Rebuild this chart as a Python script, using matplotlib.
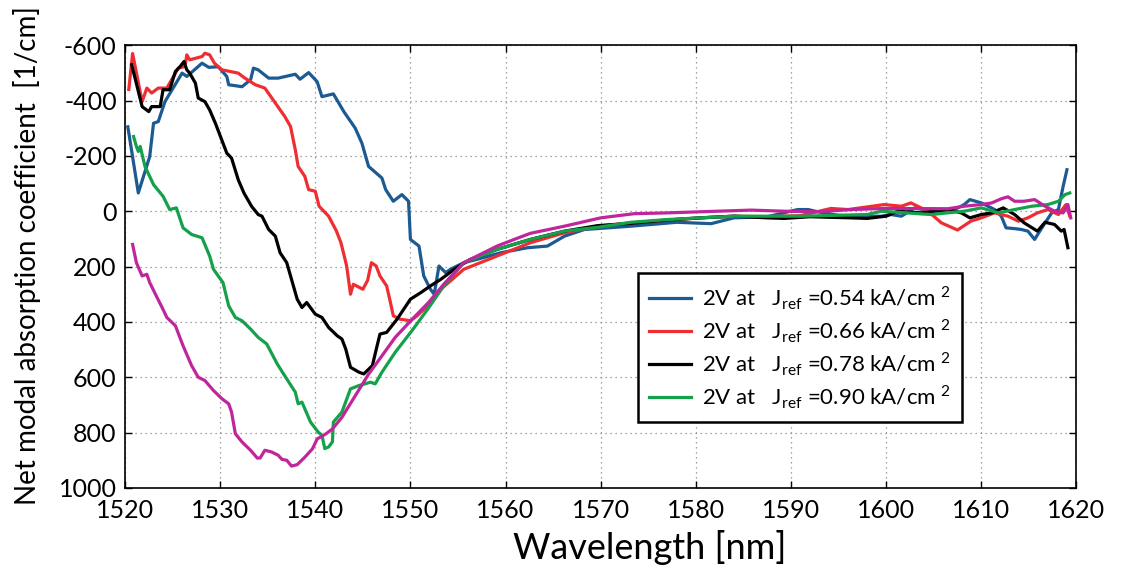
import matplotlib
matplotlib.use("Agg")
import matplotlib.pyplot as plt

plt.rcParams['font.family'] = ['Lato', 'DejaVu Sans']
plt.rcParams['mathtext.fontset'] = 'custom'
plt.rcParams['mathtext.rm'] = 'Lato'
plt.rcParams['axes.unicode_minus'] = False

# --- data (wavelength nm, net modal absorption 1/cm) ---
blue_x = [1520.3, 1521.4, 1522.6, 1523.0, 1523.5, 1524.2, 1526.0, 1526.5, 1528.1, 1528.8,
          1529.8, 1530.7, 1530.9, 1532.3, 1533.2, 1533.5, 1534.0, 1535.1, 1536.1, 1537.9,
          1538.4, 1539.3, 1540.2, 1540.7, 1541.9, 1543.0, 1544.2, 1544.9, 1545.6, 1547.0,
          1547.4, 1548.2, 1549.1, 1549.8, 1550.0, 1550.9, 1551.4, 1552.1, 1552.5, 1553.0,
          1553.7, 1554.2, 1555.6, 1557.0, 1559.5, 1562.3, 1564.4, 1566.2, 1568.3, 1570.0,
          1573.2, 1575.3, 1578.0, 1581.6, 1584.0, 1587.5, 1590.7, 1591.8, 1592.8, 1595.0,
          1598.0, 1599.5, 1600.5, 1601.6, 1603.0, 1604.7, 1607.2, 1608.2, 1608.8, 1610.0,
          1611.4, 1612.1, 1612.6, 1613.5, 1614.2, 1614.9, 1615.6, 1616.7, 1617.4, 1618.1,
          1618.6, 1619.0]
blue_y = [-305, -66, -198, -318, -324, -396, -499, -487, -535, -520,
          -522, -487, -457, -450, -475, -517, -511, -481, -481, -495,
          -477, -501, -468, -414, -424, -360, -300, -246, -162, -120,
          -78, -36, -60, -36, 102, 126, 234, 282, 300, 198,
          222, 210, 186, 174, 150, 132, 126, 90, 66, 62,
          54, 48, 40, 45, 24, 20, -6, -6, 2, 15,
          18, 18, 12, 18, -12, 0, -6, -24, -42, -30,
          -6, 18, 60, 63, 66, 72, 102, 42, 6, -6,
          -90, -150]

red_x = [1520.4, 1520.8, 1521.8, 1522.3, 1522.8, 1523.5, 1524.4, 1525.6, 1526.3, 1526.5,
         1526.8, 1528.1, 1528.4, 1528.9, 1529.4, 1530.2, 1531.9, 1532.6, 1533.7, 1534.7,
         1535.8, 1536.8, 1537.4, 1537.9, 1538.2, 1538.9, 1539.3, 1540.0, 1540.4, 1541.4,
         1542.2, 1542.7, 1543.3, 1543.7, 1544.0, 1545.0, 1545.5, 1545.9, 1546.4, 1546.8,
         1547.5, 1547.9, 1548.2, 1548.9, 1550.0, 1550.7, 1551.8, 1552.8, 1554.2, 1555.6,
         1559.1, 1562.6, 1566.2, 1569.7, 1573.2, 1577.0, 1580.5, 1584.0, 1587.5, 1591.0,
         1594.2, 1596.0, 1599.8, 1601.6, 1602.6, 1604.4, 1605.8, 1607.5, 1608.9, 1610.0,
         1611.4, 1612.8, 1613.9, 1614.9, 1615.9, 1617.0, 1618.1, 1618.9, 1619.3]
red_y = [-440, -570, -396, -445, -427, -445, -445, -517, -523, -565,
         -547, -559, -571, -565, -535, -511, -499, -481, -457, -445,
         -391, -342, -306, -222, -162, -126, -78, -72, -18, 18,
         70, 114, 198, 300, 264, 282, 250, 186, 198, 234,
         270, 330, 378, 390, 396, 378, 342, 294, 252, 210,
         162, 114, 78, 54, 42, 32, 24, 18, 20, 16,
         -10, -6, -24, -18, -30, 0, 42, 68, 36, 24,
         6, 18, 36, 24, 6, -6, 12, -24, 18]

black_x = [1520.7, 1521.1, 1521.8, 1522.5, 1522.8, 1523.7, 1524.0, 1524.7, 1525.3, 1525.8,
           1526.2, 1526.5, 1526.8, 1527.4, 1527.7, 1528.4, 1528.9, 1529.5, 1530.3, 1530.7,
           1531.2, 1531.9, 1532.5, 1533.3, 1534.0, 1534.4, 1535.1, 1535.8, 1536.3, 1537.0,
           1537.5, 1538.1, 1538.6, 1539.1, 1540.0, 1540.7, 1541.4, 1542.3, 1542.8, 1543.2,
           1543.7, 1544.6, 1545.1, 1546.0, 1546.5, 1546.8, 1547.5, 1548.6, 1550.0, 1551.1,
           1552.1, 1553.2, 1554.6, 1556.3, 1559.1, 1562.6, 1566.2, 1569.7, 1573.2, 1577.0,
           1580.5, 1584.0, 1587.5, 1589.3, 1592.0, 1596.3, 1598.0, 1600.0, 1601.2, 1603.7,
           1606.5, 1607.9, 1608.8, 1610.0, 1611.1, 1612.3, 1613.5, 1614.5, 1615.9, 1616.7,
           1617.7, 1618.4, 1618.7, 1619.1]
black_y = [-529, -475, -378, -360, -378, -378, -439, -439, -505, -523,
           -541, -511, -499, -463, -409, -396, -366, -318, -246, -210,
           -192, -114, -66, -18, 12, 18, 66, 90, 150, 186,
           246, 318, 348, 330, 372, 384, 420, 450, 462, 498,
           564, 582, 588, 558, 486, 444, 438, 390, 318, 294,
           270, 246, 210, 174, 138, 102, 72, 52, 44, 32,
           24, 18, 24, 26, 20, 24, 26, 18, 0, 6,
           -6, 6, 24, 12, 6, -12, 12, 42, 72, 40,
           48, 72, 66, 132]

green_x = [1520.9, 1521.2, 1521.4, 1521.6, 1522.1, 1523.0, 1524.0, 1524.7, 1525.4, 1526.1,
           1527.0, 1528.1, 1528.9, 1529.3, 1530.3, 1530.9, 1531.6, 1532.3, 1533.2, 1534.0,
           1534.9, 1536.0, 1537.0, 1537.9, 1538.2, 1538.6, 1539.5, 1540.3, 1540.7, 1541.0,
           1541.4, 1541.8, 1541.9, 1542.8, 1543.7, 1544.6, 1545.8, 1546.3, 1547.0, 1548.4,
           1550.2, 1551.9, 1553.5, 1555.6, 1559.1, 1562.6, 1566.2, 1569.7, 1573.2, 1577.0,
           1580.5, 1584.0, 1587.5, 1591.0, 1594.6, 1598.0, 1599.5, 1604.7, 1608.2, 1610.0,
           1611.8, 1613.5, 1615.3, 1617.0, 1618.1, 1618.8, 1619.3]
green_y = [-270, -234, -216, -234, -162, -96, -54, -6, -12, 60,
           84, 96, 162, 210, 258, 342, 384, 396, 426, 456,
           480, 552, 606, 654, 696, 690, 762, 798, 810, 858,
           852, 834, 762, 726, 642, 630, 618, 624, 582, 510,
           430, 350, 270, 186, 138, 102, 72, 58, 40, 30,
           24, 18, 18, 18, 15, 12, 0, 12, 0, -12,
           6, -6, -18, -24, -36, -60, -66]

magenta_x = [1520.8, 1521.2, 1521.8, 1522.3, 1522.6, 1523.2, 1523.9, 1524.4, 1525.3, 1526.1,
             1527.0, 1527.7, 1528.4, 1529.3, 1530.2, 1530.9, 1531.2, 1531.6, 1532.3, 1533.2,
             1533.9, 1534.2, 1534.7, 1535.4, 1536.1, 1536.5, 1537.0, 1537.5, 1538.1, 1538.9,
             1539.7, 1540.2, 1541.1, 1541.8, 1542.8, 1544.2, 1545.6, 1547.0, 1548.4, 1550.2,
             1551.9, 1553.5, 1555.6, 1557.7, 1559.1, 1560.9, 1562.6, 1566.2, 1570.0, 1573.5,
             1577.0, 1580.5, 1585.8, 1589.3, 1592.8, 1596.3, 1599.8, 1606.5, 1608.2, 1610.0,
             1611.1, 1612.1, 1612.8, 1613.5, 1614.5, 1615.6, 1616.7, 1617.7, 1618.6, 1619.1,
             1619.4]
magenta_y = [120, 186, 234, 228, 258, 300, 348, 384, 414, 486,
             558, 600, 612, 648, 678, 696, 726, 804, 834, 864,
             892, 892, 864, 870, 882, 897, 900, 921, 916, 889,
             859, 823, 805, 787, 745, 667, 589, 523, 456, 390,
             330, 264, 186, 150, 126, 102, 80, 54, 24, 9,
             6, 2, -4, 0, 2, -6, -10, -9, -18, -24,
             -30, -45, -52, -36, -36, -42, -18, 0, 6, -24,
             24]

j_ref = ["0.54", "0.66", "0.78", "0.90"]
colors = ["#1c5a92", "#ef2e33", "#000000", "#15a04c", "#c0269b"]

fig = plt.figure(figsize=(11.26, 5.72), dpi=100)
ax = fig.add_axes([0.111, 0.147, 0.845, 0.774])

series = [(blue_x, blue_y), (red_x, red_y), (black_x, black_y),
          (green_x, green_y), (magenta_x, magenta_y)]
lines = []
for (xs, ys), c in zip(series, colors):
    ln, = ax.plot(xs, ys, color=c, lw=2.3, solid_joinstyle='round')
    lines.append(ln)

ax.set_xlim(1520, 1620)
ax.set_ylim(1000, -600)
ax.set_xticks(range(1520, 1621, 10))
ax.set_yticks(range(-600, 1001, 200))
ax.grid(True, linestyle=(0, (1, 3)), color='#888888', lw=0.9)
ax.tick_params(direction='in', length=5, width=1, top=True, right=True, labelsize=18)
ax.tick_params(axis='x', pad=8)
ax.tick_params(axis='y', pad=6)
for s in ax.spines.values():
    s.set_linewidth(1.2)

ax.set_xlabel("Wavelength [nm]", fontsize=26)
ax.xaxis.set_label_coords(0.551, -0.095)
ax.set_ylabel("Net modal absorption coefficient  [1/cm]", fontsize=20)
ax.yaxis.set_label_coords(-0.088, 0.525)

labels = [r"2V at   J$_\mathregular{ref}$ =" + j + r" kA/cm $^\mathregular{2}$" for j in j_ref]
leg = ax.legend(lines[:4], labels, loc='upper left', bbox_to_anchor=(0.527, 0.51),
                fontsize=16, handlelength=1.9, handletextpad=0.5, labelspacing=0.25,
                borderpad=0.5, fancybox=False, framealpha=1, edgecolor='black')
leg.get_frame().set_linewidth(1.8)

fig.savefig("out.png", dpi=100)
